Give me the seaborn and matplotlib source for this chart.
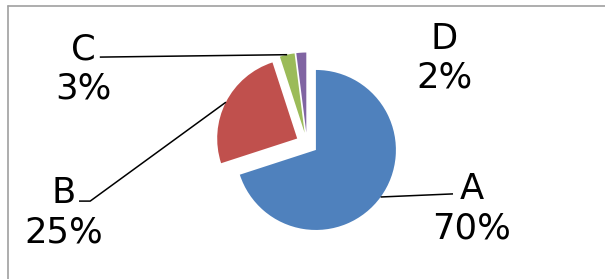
import numpy as np
import matplotlib.pyplot as plt
from matplotlib.lines import Line2D
import seaborn as sns

categories = ["A", "B", "C", "D"]
shares = [70, 25, 3, 2]
colors = ["#4F81BD", "#C0504D", "#9BBB59", "#8064A2"]

# label layout (data units, pie radius = 1)
label_pos = {"A": (2.06, -0.82), "B": (-3.04, -0.87), "C": (-2.80, 0.93), "D": (1.72, 1.065)}
leader_ends = {"A": [(1.825, -0.63)],
               "B": [(-2.71, -0.72), (-2.85, -0.72)],
               "C": [(-2.59, 1.08)],
               "D": []}

sns.set_theme(style="white")
plt.rcParams["font.family"] = ["DejaVu Sans"]

fig = plt.figure(figsize=(6.05, 2.79), dpi=100)
ax = fig.add_axes([0, 0, 1, 1])

wedges, _ = ax.pie(shares, colors=sns.color_palette(colors), startangle=90,
                   counterclock=False, explode=[0.1375] * len(shares),
                   wedgeprops=dict(linewidth=0))
ax.set_aspect("auto")
ax.set_xlim(-307 / 80, 298 / 80)
ax.set_ylim(-135.5 / 80, 143.5 / 80)
ax.axis("off")

for w, cat, val in zip(wedges, categories, shares):
    mid = np.deg2rad((w.theta1 + w.theta2) / 2)
    cx, cy = w.center
    start = (cx + w.r * np.cos(mid), cy + w.r * np.sin(mid))
    pts = [start] + leader_ends[cat]
    if len(pts) > 1:
        xs, ys = zip(*pts)
        ax.plot(xs, ys, color="black", lw=1.1, solid_capstyle="butt")
    lx, ly = label_pos[cat]
    ax.text(lx, ly, f"{cat}\n{val}%", ha="center", va="center",
            fontsize=25.5, linespacing=1.2, color="black")

# chart frame (only top and left edges fall inside the image)
fx, fy = 8 / 605, 1 - 6 / 279
fig.add_artist(Line2D([fx, 1.01], [fy, fy], color="#a0a0a0", lw=1.2, transform=fig.transFigure))
fig.add_artist(Line2D([fx, fx], [-0.01, fy], color="#a0a0a0", lw=1.2, transform=fig.transFigure))

fig.savefig("out.png", dpi=100)
